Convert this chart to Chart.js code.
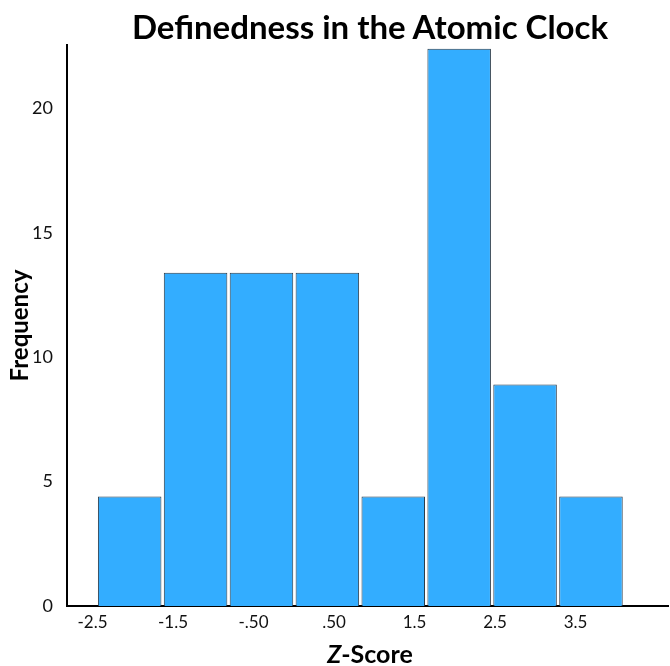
<!DOCTYPE html>
<html>
<head>
<meta charset="utf-8">
<script src="https://cdn.jsdelivr.net/npm/chart.js@4/dist/chart.umd.min.js"></script>
<style>
  body { margin: 0; background: #fff; }
  #wrap { position: relative; width: 670px; height: 666px; }
  #titulo {
    position: absolute; left: 0; top: 6px; width: 740px;
    text-align: center; font: bold 33px Lato, sans-serif; color: #000;
  }
  #eixoX {
    position: absolute; left: 0; top: 638px; width: 740px;
    text-align: center; font: bold 25px Lato, sans-serif; color: #000;
  }
</style>
</head>
<body>
<div id="wrap">
  <canvas id="histChart" width="670" height="666"></canvas>
  <div id="titulo">Definedness in the Atomic Clock</div>
  <div id="eixoX"><i>Z</i>-Score</div>
</div>
<script>
// Dados do histograma
const bins = [0, 1, 2, 3, 4, 5, 6, 7];
const frequencias = [4.4, 13.4, 13.4, 13.4, 4.4, 22.4, 8.9, 4.4];
const zTicks = [-2.5, -1.5, -0.5, 0.5, 1.5, 2.5, 3.5];
const zLabels = ['-2.5', '-1.5', '-.50', '.50', '1.5', '2.5', '3.5'];
const yTicks = [0, 5, 10, 15, 20];

const pontos = bins.map((b, i) => ({ x: b, y: frequencias[i] }));

const ctx = document.getElementById('histChart').getContext('2d');

new Chart(ctx, {
    type: 'bar',
    data: {
        datasets: [{
            label: 'Frequency',
            data: pontos,
            backgroundColor: '#33adff',
            borderColor: '#2a3a48',
            borderWidth: 1,
            categoryPercentage: 1,
            barPercentage: 0.964,
            xAxisID: 'x'
        }]
    },
    options: {
        responsive: false,
        animation: false,
        layout: { padding: { top: 45, right: 2, left: 0, bottom: 0 } },
        plugins: {
            legend: { display: false },
            tooltip: { enabled: false }
        },
        scales: {
            x: {
                type: 'linear',
                display: false,
                offset: false,
                min: -0.951,
                max: 8.169
            },
            x2: {
                type: 'linear',
                position: 'bottom',
                offset: false,
                min: -2.817,
                max: 4.649,
                grid: { display: false, drawTicks: false },
                border: { display: true, color: '#000', width: 2 },
                afterBuildTicks: (scale) => {
                    scale.ticks = zTicks.map(v => ({ value: v }));
                },
                afterFit: (scale) => { scale.height = 60; },
                ticks: {
                    autoSkip: false,
                    maxRotation: 0,
                    padding: 6,
                    color: '#111',
                    font: { family: 'Lato', size: 17 },
                    callback: (v) => {
                        const i = zTicks.indexOf(v);
                        return i >= 0 ? zLabels[i] : '';
                    }
                }
            },
            y: {
                min: 0,
                max: 22.55,
                grid: { display: false, drawTicks: false },
                border: { display: true, color: '#000', width: 2 },
                afterBuildTicks: (scale) => {
                    scale.ticks = yTicks.map(v => ({ value: v }));
                },
                afterFit: (scale) => { scale.width = 67; },
                ticks: {
                    padding: 14,
                    color: '#111',
                    font: { family: 'Lato', size: 18 }
                },
                title: {
                    display: true,
                    text: 'Frequency',
                    color: '#000',
                    padding: { top: 6, bottom: 0 },
                    font: { family: 'Lato', size: 24, weight: 'bold' }
                }
            }
        }
    }
});
</script>
</body>
</html>
